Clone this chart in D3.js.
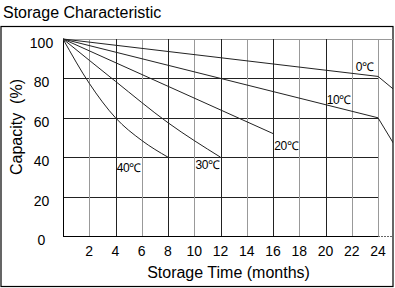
<!DOCTYPE html>
<html>
<head>
<meta charset="utf-8">
<script src="https://cdn.jsdelivr.net/npm/d3@7"></script>
<style>
  body { margin: 0; background: #fff; }
  svg { display: block; font-family: "Liberation Sans", Arial, sans-serif; }
</style>
</head>
<body>
<div id="chart"></div>
<script>
// tick labels
const monthTicks = [2, 4, 6, 8, 10, 12, 14, 16, 18, 20, 22, 24];
const capTicks = [0, 20, 40, 60, 80, 100];

// curves, one pair of arrays per temperature
const month0 = [0, 24, 26];
const cap0 = [100, 81, 70];
const month10 = [0, 24, 26];
const cap10 = [100, 60, 38];
const month20 = [0, 16];
const cap20 = [100, 52];
const month30 = [0, 4, 8, 12];
const cap30 = [100, 78.5, 57.5, 40];
const month40 = [0, 2, 4, 6, 8];
const cap40 = [100, 77.5, 60, 48.5, 40];
const tempLabels = ["0℃", "10℃", "20℃", "30℃", "40℃"];

const series = [
  { name: tempLabels[0], pts: month0.map((m, i) => [m, cap0[i]]), smooth: false },
  { name: tempLabels[1], pts: month10.map((m, i) => [m, cap10[i]]), smooth: false },
  { name: tempLabels[2], pts: month20.map((m, i) => [m, cap20[i]]), smooth: false },
  { name: tempLabels[3], pts: month30.map((m, i) => [m, cap30[i]]), smooth: true },
  { name: tempLabels[4], pts: month40.map((m, i) => [m, cap40[i]]), smooth: true }
];

const width = 395;
const height = 288;
const margin = { top: 39, right: 17, bottom: 52, left: 63 };

const svg = d3.select("#chart").append("svg")
  .attr("width", width)
  .attr("height", height);

const x = d3.scaleLinear()
  .domain([0, 24])
  .range([margin.left, width - margin.right]);

const y = d3.scaleLinear()
  .domain([0, 100])
  .range([height - margin.bottom, margin.top]);

// title
svg.append("text")
  .attr("x", 3)
  .attr("y", 18)
  .style("font-size", "16px")
  .text("Storage Characteristic");

// outer frame
svg.append("rect")
  .attr("x", 1)
  .attr("y", 26.5)
  .attr("width", 392)
  .attr("height", 260)
  .attr("fill", "none")
  .attr("stroke", "#000")
  .attr("stroke-width", 1.2);

svg.append("clipPath")
  .attr("id", "clip")
  .append("rect")
  .attr("x", x(0))
  .attr("y", 27)
  .attr("width", 393 - x(0))
  .attr("height", 259);

// grid
const grid = svg.append("g");

grid.append("line")
  .attr("x1", x(0)).attr("x2", 393)
  .attr("y1", y(100) + 0.5).attr("y2", y(100) + 0.5)
  .attr("stroke", "#999");

grid.selectAll(".h")
  .data(capTicks.filter(d => d > 0 && d < 100))
  .join("line")
  .attr("x1", x(0)).attr("x2", x(24))
  .attr("y1", d => Math.round(y(d)) + 0.5)
  .attr("y2", d => Math.round(y(d)) + 0.5)
  .attr("stroke", "#222");

grid.selectAll(".v")
  .data(monthTicks)
  .join("line")
  .attr("x1", d => Math.round(x(d)) + 0.5)
  .attr("x2", d => Math.round(x(d)) + 0.5)
  .attr("y1", y(100))
  .attr("y2", y(0))
  .attr("stroke", d => (d % 4 === 0 && d < 24) ? "#222" : "#999");

// axes lines
svg.append("line")
  .attr("x1", x(0) + 0.5).attr("x2", x(0) + 0.5)
  .attr("y1", y(100)).attr("y2", y(0))
  .attr("stroke", "#000");

svg.append("line")
  .attr("x1", x(0)).attr("x2", x(24))
  .attr("y1", y(0) + 0.5).attr("y2", y(0) + 0.5)
  .attr("stroke", "#000");

svg.append("line")
  .attr("x1", x(24)).attr("x2", 393)
  .attr("y1", y(0) + 0.5).attr("y2", y(0) + 0.5)
  .attr("stroke", "#666")
  .attr("stroke-dasharray", "2,1");

// tick labels
svg.selectAll(".ylab")
  .data(capTicks)
  .join("text")
  .attr("x", 41.5)
  .attr("y", d => y(d) + 9)
  .attr("text-anchor", "middle")
  .style("font-size", "14px")
  .text(d => d);

svg.selectAll(".xlab")
  .data(monthTicks)
  .join("text")
  .attr("x", d => x(d))
  .attr("y", 256)
  .attr("text-anchor", "middle")
  .style("font-size", "14px")
  .text(d => d);

// axis titles
svg.append("text")
  .attr("x", 228.5)
  .attr("y", 278)
  .attr("text-anchor", "middle")
  .style("font-size", "16px")
  .text("Storage Time (months)");

svg.append("text")
  .attr("transform", "translate(21.5,127) rotate(-90)")
  .attr("text-anchor", "middle")
  .style("font-size", "16px")
  .attr("xml:space", "preserve")
  .text("Capacity  (%)");

// curves
const straight = d3.line()
  .x(d => x(d[0]))
  .y(d => y(d[1]));

const smooth = d3.line()
  .x(d => x(d[0]))
  .y(d => y(d[1]))
  .curve(d3.curveMonotoneX);

svg.append("g")
  .attr("clip-path", "url(#clip)")
  .selectAll("path")
  .data(series)
  .join("path")
  .attr("fill", "none")
  .attr("stroke", "#222")
  .attr("stroke-width", 1)
  .attr("d", d => (d.smooth ? smooth : straight)(d.pts));

// curve labels, placed in data units
const labelAt = [[22.3, 83.8], [20.1, 67], [16.1, 43.7], [10.1, 34], [4.1, 32.5]];

svg.selectAll(".tlab")
  .data(series)
  .join("text")
  .attr("x", (d, i) => x(labelAt[i][0]))
  .attr("y", (d, i) => y(labelAt[i][1]))
  .style("font-size", "12px")
  .style("letter-spacing", "-0.5px")
  .text(d => d.name);
</script>
</body>
</html>
